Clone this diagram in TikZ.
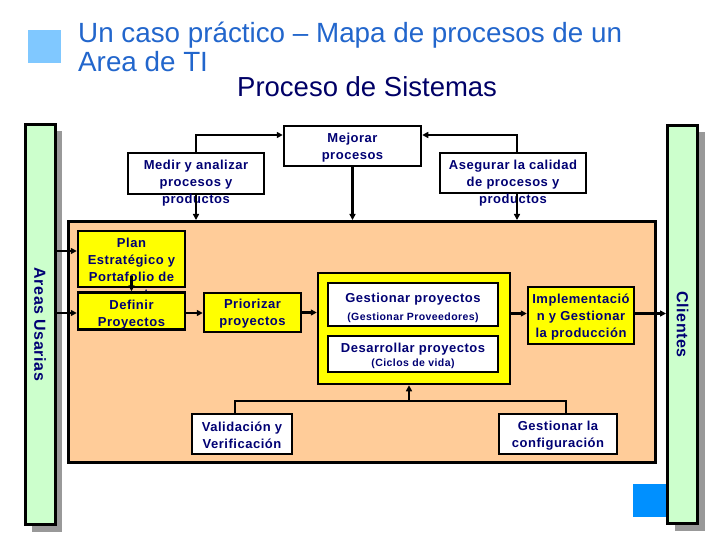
\documentclass[tikz,border=0pt]{standalone}
\usepackage{fontspec}
\setmainfont{Liberation Sans}
\newfontfamily\boxfont[LetterSpace=4]{Liberation Sans}
\usetikzlibrary{arrows.meta,shadows}
\definecolor{titleblue}{RGB}{34,102,204}
\definecolor{subnavy}{RGB}{0,0,102}
\definecolor{boxnavy}{RGB}{0,0,115}
\definecolor{squarelight}{RGB}{128,200,255}
\definecolor{squaredark}{RGB}{0,144,255}
\definecolor{sidegreen}{RGB}{204,255,204}
\definecolor{sysorange}{RGB}{255,204,153}
\definecolor{procyellow}{RGB}{255,255,0}
\definecolor{shadowgray}{RGB}{153,153,153}
\newcommand{\subline}[1]{{\fontsize{10.5}{13}\selectfont #1}}
\tikzset{
  procbox/.style={draw,line width=2.5pt,fill=white,inner sep=0pt},
  yelbox/.style={procbox,fill=procyellow},
  boxtext/.style={text=boxnavy,align=center,inner sep=0pt,
    font=\boxfont\bfseries\fontsize{13}{17}\selectfont},
  sidebar/.style={draw,line width=3pt,fill=sidegreen,
    drop shadow={shadow xshift=7pt,shadow yshift=-7pt,fill=shadowgray,opacity=1}},
  sidetext/.style={text=boxnavy,inner sep=0pt,rotate=-90,
    font=\boxfont\bfseries\fontsize{16}{18}\selectfont},
  titletext/.style={anchor=base west,inner sep=0pt,font=\fontsize{27.8}{29}\selectfont},
  link/.style={line width=2.5pt},
  arr/.style={line width=2.5pt,-{Triangle[length=6pt,width=6pt]}}
}
\begin{document}
\begin{tikzpicture}[x=1pt,y=-1pt]
  \useasboundingbox (0,0) rectangle (720,540);
  % title
  \fill[squarelight] (28,30) rectangle (61,63);
  \node[titletext,text=titleblue] (titulo) at (78,43) {Un caso práctico – Mapa de procesos de un};
  \node[titletext,text=titleblue] (tituloarea) at (78,72) {Area de TI};
  \node[titletext,text=subnavy,font=\fontsize{27.5}{29}\selectfont] (subtitulo) at (237,97) {Proceso de Sistemas};
  \fill[squaredark] (633,484) rectangle (667,517);
  % side bars
  \node[sidebar,minimum width=30pt,minimum height=400pt] (usuarias) at (40,324.5) {};
  \node[sidetext] (usuariastxt) at (usuarias) {Areas Usarias};
  \node[sidebar,minimum width=30pt,minimum height=398pt] (clientes) at (682.5,324.5) {};
  \node[sidetext] (clientestxt) at (clientes) {Clientes};
  % main process
  \node[draw,line width=3pt,fill=sysorange,minimum width=587pt,minimum height=241pt] (sistema) at (362,342) {};
  % support processes
  \node[procbox,minimum width=137pt,minimum height=40pt] (mejorar) at (352.5,146) {};
  \node[boxtext] (mejorartxt) at (352.5,148) {Mejorar\\procesos};
  \node[procbox,minimum width=136pt,minimum height=41pt] (medir) at (196,173.5) {};
  \node[boxtext] (medirtxt) at (196,183) {Medir y analizar\\procesos y\\productos};
  \node[procbox,minimum width=146pt,minimum height=40pt] (asegurar) at (513,173) {};
  \node[boxtext] (asegurartxt) at (513,183.5) {Asegurar la calidad\\de procesos y\\productos};
  % core processes
  \node[yelbox,minimum width=107pt,minimum height=56pt] (plan) at (131.5,259) {};
  \node[boxtext] (plantxt) at (131.5,270) {Plan\\Estratégico y\\Portafolio de\\proyectos};
  \node[yelbox,minimum width=107pt,minimum height=37pt] (definir) at (131.5,311) {};
  \node[boxtext] (definirtxt) at (131.5,315) {Definir\\Proyectos};
  \node[yelbox,minimum width=97pt,minimum height=39pt] (priorizar) at (252.5,312.5) {};
  \node[boxtext] (priorizartxt) at (252.5,313.5) {Priorizar\\proyectos};
  \node[yelbox,minimum width=192pt,minimum height=111pt] (ejecutar) at (414,328.5) {};
  \node[procbox,minimum width=170pt,minimum height=43pt] (gestionar) at (413,304.5) {};
  \node[boxtext] (gestionartxt) at (413,307.5) {Gestionar proyectos\\[1pt]\subline{(Gestionar Proveedores)}};
  \node[procbox,minimum width=170pt,minimum height=36pt] (desarrollar) at (413,354) {};
  \node[boxtext] (desarrollartxt) at (413,356) {Desarrollar proyectos\\[-3pt]\subline{(Ciclos de vida)}};
  \node[yelbox,minimum width=106pt,minimum height=57pt] (implementar) at (581,315.5) {};
  \node[boxtext] (implementartxt) at (581,317.5) {Implementació\\n y Gestionar\\la producción};
  \node[procbox,minimum width=100pt,minimum height=40pt] (validar) at (242,434) {};
  \node[boxtext] (validartxt) at (242,435) {Validación y\\Verificación};
  \node[procbox,minimum width=118pt,minimum height=40pt] (configurar) at (558,434) {};
  \node[boxtext] (configurartxt) at (558,436) {Gestionar la\\configuración};
  % connectors
  \draw[arr] (medir.north) |- ([yshift=11pt]mejorar.west);
  \draw[arr] ([xshift=4pt]asegurar.north) |- ([yshift=11pt]mejorar.east);
  \draw[arr] (medir.south) -- (medir.south |- sistema.north);
  \draw[arr] (mejorar.south) -- (mejorar.south |- sistema.north);
  \draw[arr] ([xshift=4pt]asegurar.south) -- ([xshift=4pt]asegurar.south |- sistema.north);
  \draw[arr] ([yshift=8pt]plan.west -| usuarias.east) -- ([yshift=8pt]plan.west);
  \draw[arr] ([yshift=-2pt]definir.west -| usuarias.east) -- ([yshift=-2pt]definir.west);
  \draw[arr] ([yshift=12pt]plan.south) -- (definir.north);
  \draw[arr] ([yshift=-2pt]definir.east) -- ([yshift=-2pt]definir.east -| priorizar.west);
  \draw[arr] (priorizar.east) -- (priorizar.east -| ejecutar.west);
  \draw[arr] ([yshift=2pt]implementar.west -| ejecutar.east) -- ([yshift=2pt]implementar.west);
  \draw[arr] ([yshift=2pt]implementar.east) -- ([yshift=2pt]implementar.east -| clientes.west);
  \coordinate (soporte) at (409,401);
  \draw[link] ([xshift=-7pt]validar.north) |- (soporte) -| ([xshift=8pt]configurar.north);
  \draw[arr] (soporte) -- (soporte |- ejecutar.south);
\end{tikzpicture}
\end{document}
